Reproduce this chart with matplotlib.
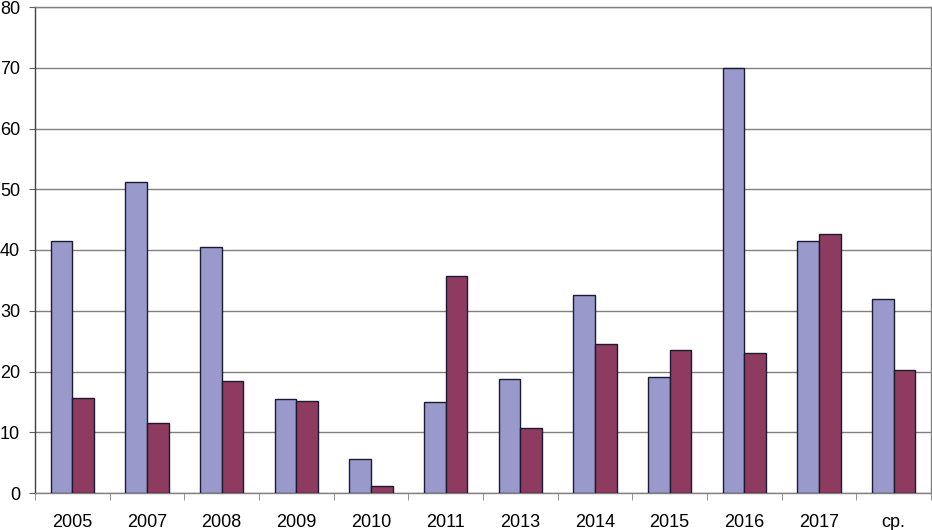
import numpy as np
import matplotlib.pyplot as plt
from matplotlib.ticker import FixedLocator

# values
categories = ["2005", "2007", "2008", "2009", "2010", "2011",
              "2013", "2014", "2015", "2016", "2017", "ср."]
series_a = [41.5, 51.2, 40.5, 15.4, 5.6, 15.0, 18.7, 32.6, 19.1, 70.0, 41.5, 31.9]
series_b = [15.7, 11.6, 18.5, 15.2, 1.2, 35.7, 10.7, 24.6, 23.5, 23.1, 42.7, 20.2]
y_ticks = [0, 10, 20, 30, 40, 50, 60, 70, 80]

plt.rcParams['font.family'] = ['Liberation Sans', 'DejaVu Sans']

fig = plt.figure(figsize=(9.32, 5.30), dpi=100)
ax = fig.add_axes([35 / 932, 37 / 530, 896 / 932, 486 / 530])

x = np.arange(len(categories))
w = 0.29
ax.bar(x - w / 2, series_a, width=w, color="#9999CC", edgecolor="#1a1a33",
       linewidth=1, zorder=3)
ax.bar(x + w / 2, series_b, width=w, color="#8E3B5F", edgecolor="#1a1a33",
       linewidth=1, zorder=3)

ax.set_xlim(-0.5, len(categories) - 0.5)
ax.set_ylim(0, 80)
ax.set_yticks(y_ticks)
ax.yaxis.grid(True, color="#808080", linewidth=1, zorder=0)

ax.set_xticks(x)
ax.set_xticklabels(categories)
ax.xaxis.set_minor_locator(FixedLocator(np.arange(-0.5, len(categories), 1.0)))
ax.tick_params(axis="x", which="major", length=0, pad=15, labelsize=13)
ax.tick_params(axis="x", which="minor", length=5, color="#808080", direction="out")
ax.tick_params(axis="y", length=4.3, color="#606060", pad=6.5, labelsize=13)

for side in ["left", "bottom", "right", "top"]:
    ax.spines[side].set_color("#808080")
    ax.spines[side].set_linewidth(1)
ax.spines["left"].set_color("#404040")

fig.savefig("out.png", dpi=100)
